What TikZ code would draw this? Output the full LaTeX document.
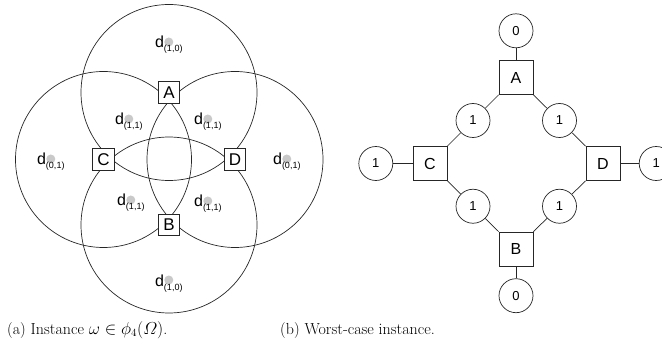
\documentclass[tikz,border=0pt]{standalone}
\usepackage{amsmath}
\usepackage{fontspec}
\newfontfamily\hv{Liberation Sans}
\usetikzlibrary{positioning,calc}
\definecolor{Ink}{HTML}{262626}
\definecolor{DotGray}{HTML}{C9C9C9}
\tikzset{
  region/.style={draw=Ink,line width=.7pt},
  sq/.style={draw=Ink,fill=white,line width=.8pt,minimum size=21.5pt,inner sep=0pt,font=\hv\fontsize{17}{17}\selectfont},
  bigsq/.style={draw=Ink,fill=white,line width=.7pt,minimum size=34pt,inner sep=0pt,font=\hv\fontsize{16}{16}\selectfont},
  val/.style={circle,draw=Ink,fill=white,line width=.7pt,minimum size=34pt,inner sep=0pt,font=\hv\fontsize{13}{13}\selectfont},
  dl/.style={inner sep=0pt,anchor=base west,font=\hv\fontsize{16}{16}\selectfont},
  dsub/.style={inner sep=0pt,anchor=base west,font=\hv\fontsize{9}{9}\selectfont},
  link/.style={draw=Ink,line width=.7pt},
  capt/.style={inner sep=0pt,anchor=base west,font=\fontsize{16}{19}\selectfont}
}
\begin{document}
\begin{tikzpicture}[x=1pt,y=-1pt]
  \useasboundingbox (0,0) rectangle (662,350);
  % (a) four overlapping regions
  \coordinate (qa) at (169,92.5);
  \coordinate (qb) at (169,225);
  \coordinate (qc) at (103.5,159.5);
  \coordinate (qd) at (235,159.5);
  \foreach \c in {qa,qb,qc,qd}
    \draw[region] (\c) circle[radius=88pt];
  \node[sq] (A) at (qa) {A};
  \node[sq] (B) at (qb) {B};
  \node[sq] (C) at (qc) {C};
  \node[sq] (D) at (qd) {D};
  \foreach \x/\y/\s [count=\i] in {155/48/{1,0},115/125/{1,1},194/125/{1,1},37/165/{0,1},273/165/{0,1},117/206/{1,1},194/207/{1,1},155/286/{1,0}}{
    \node[dl] (d\i) at (\x,\y) {d};
    \fill[DotGray] (d\i.base east) ++(4.5,-6) circle[radius=4.5pt];
    \node[dsub] at ([shift={(-0.5,4)}]d\i.base east) {(\s)};
  }

  % (b) worst case
  \node[bigsq] (RA) at (516,77.5) {A};
  \node[bigsq] (RB) at (516,249) {B};
  \node[bigsq] (RC) at (430,163.5) {C};
  \node[bigsq] (RD) at (603,163.5) {D};
  \node[val,above=12pt of RA] (vA) {0};
  \node[val,below=12pt of RB] (vB) {0};
  \node[val,left=19.5pt of RC] (vC) {1};
  \node[val,right=18.5pt of RD] (vD) {1};
  \node[val] (vAC) at ($(RA)!.5!(RC)$) {1};
  \node[val] (vAD) at ($(RA)!.5!(RD)$) {1};
  \node[val] (vBC) at ($(RB)!.5!(RC)$) {1};
  \node[val] (vBD) at ($(RB)!.5!(RD)$) {1};
  \draw[link] (vA) -- (RA);
  \draw[link] (vB) -- (RB);
  \draw[link] (vC) -- (RC);
  \draw[link] (vD) -- (RD);
  \draw[link] (vAC) -- (RA.south west);
  \draw[link] (vAC) -- (RC.north east);
  \draw[link] (vAD) -- (RA.south east);
  \draw[link] (vAD) -- (RD.north west);
  \draw[link] (vBC) -- (RB.north west);
  \draw[link] (vBC) -- (RC.south east);
  \draw[link] (vBD) -- (RB.north east);
  \draw[link] (vBD) -- (RD.south west);

  \node[capt] (capa) at (7,334) {(a) Instance $\omega\in\phi_4(\varOmega)$.};
  \node[capt] (capb) at (280,334) {(b) Worst-case instance.};
\end{tikzpicture}
\end{document}
